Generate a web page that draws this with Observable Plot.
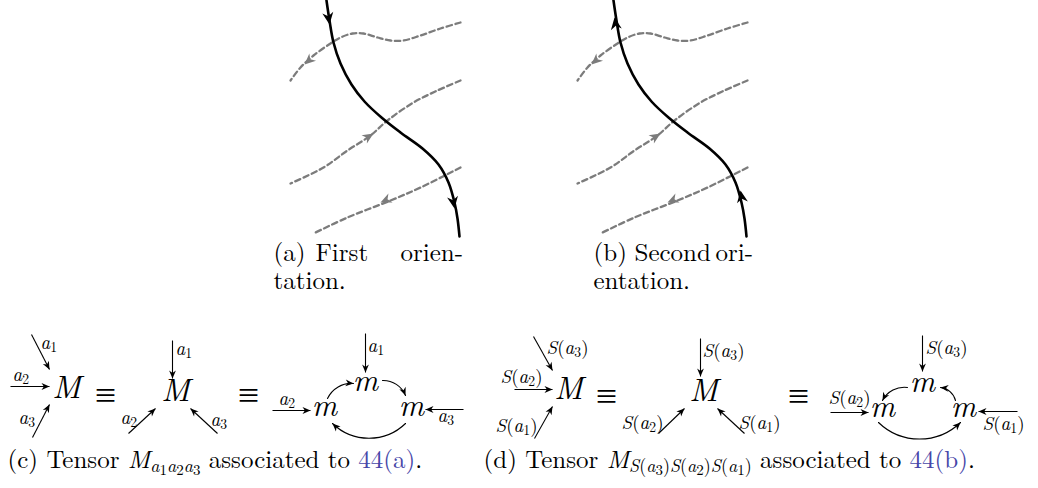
<!DOCTYPE html>
<html><head><meta charset="utf-8">
<script src="https://cdn.jsdelivr.net/npm/d3@7"></script>
<script src="https://cdn.jsdelivr.net/npm/@observablehq/plot@0.6"></script>
<style>
body{margin:0;background:#fff;}
</style></head><body><div id="chart"></div>
<script>
// ================= DATA =================
const W = 1038, H = 488;
const INK = "#000", GREY = "#7c7c7c", LINK = "#4646a8";
const SERIF = "Latin Modern Roman, Liberation Serif, serif";

// ---- top panels (a) and (b): same picture, panel (b) shifted right ----
const panelShift = [0, 287];
// the black strand (drawn downward in (a), upward in (b))
const strand = [[326,0],[329,20],[333,42],[340,63],[351,84],[364,101],[381,117],[400,132],[422,148],[438,164],[448,182],[454,202],[457,218],[459,236]];
// arrowheads: [tail, tip]
const strandHeadsA = [[[327,10],[329,24]], [[452,196],[454,208]]];
const strandHeadsB = [[[329,30],[327,17]], [[455,202],[453,190]]];
// dashed grey lines
const dashTop = [[460,22],[440,28],[420,35],[403,40],[390,40],[377,37],[363,33],[352,33],[340,37],[330,43],[313,55],[300,67],[290,80]];
const dashMid = [[460,80],[437,90],[413,102],[387,120],[370,135],[347,150],[323,167],[290,183]];
const dashLow = [[460,167],[420,187],[390,200],[347,217],[313,233]];
const dashHeads = [[[314,55],[304,64]], [[362,140],[373,133]], [[391,197],[380,202]]];

// ---- captions of (a), (b): words of the justified lines ----
const capWords = [
  {t:"(a)", x:273, y:260}, {t:"First", x:315, y:260}, {t:"orien-", x:400, y:260},
  {t:"tation.", x:273, y:288},
  {t:"(b)", x:593, y:260}, {t:"Second", x:634, y:260}, {t:"ori-", x:715, y:260},
  {t:"entation.", x:593, y:288}
];

// ---- diagrams (c) and (d) ----
const bigLetters = [
  {t:"$M$", x:66, y:397}, {t:"$M$", x:175, y:400},
  {t:"$M$", x:568, y:398}, {t:"$M$", x:703, y:400}
];
const smallM = [
  {t:"$m$", x:365, y:390}, {t:"$m$", x:324, y:415}, {t:"$m$", x:411, y:415},
  {t:"$m$", x:922, y:391}, {t:"$m$", x:882, y:416}, {t:"$m$", x:963, y:416}
];
const equivs = [{t:"≡", x:105, y:395}, {t:"≡", x:248, y:395}, {t:"≡", x:606, y:396}, {t:"≡", x:798, y:396}];
const straightArrows = [
  // (c)
  {x1:31,y1:334,x2:49,y2:369}, {x1:10,y1:386,x2:49,y2:386}, {x1:32,y1:437,x2:49,y2:404},
  {x1:172,y1:340,x2:172,y2:378}, {x1:128,y1:433,x2:155,y2:408}, {x1:217,y1:433,x2:190,y2:408},
  {x1:365,y1:333,x2:365,y2:372}, {x1:272,y1:410,x2:310,y2:410}, {x1:463,y1:409,x2:425,y2:409},
  // (d)
  {x1:533,y1:336,x2:552,y2:370}, {x1:514,y1:389,x2:552,y2:389}, {x1:534,y1:438,x2:552,y2:406},
  {x1:700,y1:338,x2:700,y2:376}, {x1:658,y1:433,x2:684,y2:408}, {x1:744,y1:433,x2:717,y2:408},
  {x1:922,y1:335,x2:922,y2:371}, {x1:830,y1:412,x2:868,y2:412}, {x1:1017,y1:411,x2:978,y2:411}
];
const curvedArrows = [
  {x1:327,y1:398,x2:353,y2:383,bend:35}, {x1:382,y1:380,x2:405,y2:395,bend:35}, {x1:405,y1:423,x2:332,y2:423,bend:44},
  {x1:907,y1:387,x2:882,y2:400,bend:-35}, {x1:955,y1:400,x2:940,y2:387,bend:-35}, {x1:878,y1:422,x2:960,y2:422,bend:-44}
];
const labels = [
  {t:"$a_1$", x:40, y:348}, {t:"$a_2$", x:12, y:380}, {t:"$a_3$", x:18, y:423},
  {t:"$a_1$", x:175, y:354}, {t:"$a_2$", x:120, y:423}, {t:"$a_3$", x:210, y:425},
  {t:"$a_1$", x:367, y:351}, {t:"$a_2$", x:278, y:404}, {t:"$a_3$", x:437, y:421},
  {t:"$S(a_3)$", x:546, y:353}, {t:"$S(a_2)$", x:500, y:382}, {t:"$S(a_1)$", x:495, y:431},
  {t:"$S(a_3)$", x:702, y:356}, {t:"$S(a_2)$", x:621, y:428}, {t:"$S(a_1)$", x:738, y:428},
  {t:"$S(a_3)$", x:925, y:353}, {t:"$S(a_2)$", x:828, y:403}, {t:"$S(a_1)$", x:982, y:429}
];
const bottomCaptions = [
  {t:"(c) Tensor $M_{a_1a_2a_3}$ associated to [44(a)].", x:7, y:467, w:422},
  {t:"(d) Tensor $M_{S(a_3)S(a_2)S(a_1)}$ associated to [44(b)].", x:483, y:467, w:549}
];

// ================= BUILD =================
const rows = (pts, s, id) => pts.map(([x, y]) => ({x: x + s, y, id}));
const strandData = panelShift.flatMap((s, k) => rows(strand, s, "s" + k));
const dashData = panelShift.flatMap((s, k) => [dashTop, dashMid, dashLow].flatMap((c, j) => rows(c, s, `d${k}${j}`)));
const deg = Math.PI / 180;
const headRow = ([[x1, y1], [x2, y2]], s) => ({x: x2 + s, y: y2, rotate: Math.atan2(y2 - y1, x2 - x1) / deg + 90});
const strandHeadData = [...strandHeadsA.map(h => headRow(h, 0)), ...strandHeadsB.map(h => headRow(h, panelShift[1]))];
const dashHeadData = panelShift.flatMap(s => dashHeads.map(h => headRow(h, s)));
const straightHeadData = straightArrows.map(d => headRow([[d.x1, d.y1], [d.x2, d.y2]], 0));
const curvedHeadData = curvedArrows.map(d => ({x: d.x2, y: d.y2,
  rotate: (Math.atan2(d.y2 - d.y1, d.x2 - d.x1) + d.bend * deg) / deg + 90}));

// LaTeX-like "stealth" arrowhead, tip at the anchor point
const stealth = {draw(ctx, l, r) {
  ctx.moveTo(0, -l); ctx.lineTo(r, 0); ctx.lineTo(0, -0.3 * l); ctx.lineTo(-r, 0); ctx.closePath();
}};

const textOpts = {x: "x", y: "y", text: "t", fontFamily: SERIF, fill: INK};
const plot = Plot.plot({
  width: W, height: H, margin: 0,
  x: {domain: [0, W], range: [0, W], axis: null},
  y: {domain: [0, H], range: [0, H], axis: null},
  style: {background: "#fff", overflow: "visible"},
  marks: [
    Plot.line(dashData, {x: "x", y: "y", z: "id", curve: "catmull-rom", stroke: GREY, strokeWidth: 2.3, strokeDasharray: "5.5,3.5"}),
    Plot.vector(dashHeadData, {x: "x", y: "y", rotate: "rotate", length: 11, r: 5, anchor: "end", shape: stealth, fill: GREY, stroke: "none"}),
    Plot.line(strandData, {x: "x", y: "y", z: "id", curve: "catmull-rom", stroke: INK, strokeWidth: 2.6}),
    Plot.vector(strandHeadData, {x: "x", y: "y", rotate: "rotate", length: 12, r: 5.5, anchor: "end", shape: stealth, fill: INK, stroke: "none"}),
    Plot.text(capWords, {...textOpts, textAnchor: "start", lineAnchor: "bottom", fontSize: 25}),

    Plot.link(straightArrows, {x1: "x1", y1: "y1", x2: "x2", y2: "y2", stroke: INK, strokeWidth: 1.1}),
    Plot.vector(straightHeadData, {x: "x", y: "y", rotate: "rotate", length: 8, r: 3.4, anchor: "end", shape: stealth, fill: INK, stroke: "none"}),
    ...curvedArrows.map(d => Plot.arrow([d], {x1: "x1", y1: "y1", x2: "x2", y2: "y2", bend: d.bend, headLength: 0, stroke: INK, strokeWidth: 1.1})),
    Plot.vector(curvedHeadData, {x: "x", y: "y", rotate: "rotate", length: 8, r: 3.4, anchor: "end", shape: stealth, fill: INK, stroke: "none"}),
    Plot.text(bigLetters, {...textOpts, textAnchor: "middle", lineAnchor: "bottom", fontSize: 32}),
    Plot.text(smallM, {...textOpts, textAnchor: "middle", lineAnchor: "bottom", fontSize: 31}),
    Plot.text(equivs, {...textOpts, textAnchor: "middle", lineAnchor: "middle", fontSize: 38}),
    Plot.text(labels, {...textOpts, textAnchor: "start", lineAnchor: "bottom", fontSize: 19}),
    Plot.text(bottomCaptions, {...textOpts, textAnchor: "start", lineAnchor: "bottom", fontSize: 25, ariaLabel: "caption-lines"})
  ]
});
document.getElementById("chart").appendChild(plot);

// ============ tiny math typesetter: $..$ math, _x / _{..} subscripts, [..] link colour ============
function parseMath(s, level, out, link) {
  for (let i = 0; i < s.length;) {
    const c = s[i];
    if (c === "_") {
      i++;
      let arg;
      if (s[i] === "{") {
        let depth = 1, j = i + 1;
        while (depth) { if (s[j] === "{") depth++; else if (s[j] === "}") depth--; j++; }
        arg = s.slice(i + 1, j - 1); i = j;
      } else { arg = s[i]; i++; }
      parseMath(arg, level + 1, out, link);
    } else {
      out.push({ch: c, level, italic: /[A-Za-z]/.test(c), link});
      i++;
    }
  }
}
function richify(el) {
  const src = el.textContent;
  if (!/[$\[]/.test(src)) return;
  const base = parseFloat(getComputedStyle(el).fontSize);
  const toks = [];
  let link = false;
  for (let i = 0; i < src.length;) {
    const c = src[i];
    if (c === "$") { const j = src.indexOf("$", i + 1); parseMath(src.slice(i + 1, j), 0, toks, link); i = j + 1; continue; }
    if (c === "[") { link = true; i++; continue; }
    if (c === "]") { link = false; i++; continue; }
    toks.push({ch: c, level: 0, italic: false, link}); i++;
  }
  const groups = [];
  let g = null;
  for (const t of toks) {
    if (g && g.level === t.level && g.italic === t.italic && g.link === t.link) g.s += t.ch;
    else groups.push(g = {s: t.ch, level: t.level, italic: t.italic, link: t.link});
  }
  const scale = [1, 0.72, 0.6], shift = [0, 0.18, 0.3];
  el.textContent = "";
  el.style.whiteSpace = "pre";
  let cur = 0;
  for (const gr of groups) {
    const ts = document.createElementNS("http://www.w3.org/2000/svg", "tspan");
    ts.textContent = gr.s;
    ts.setAttribute("font-size", (base * scale[gr.level]).toFixed(2));
    const off = shift[gr.level] * base;
    if (Math.abs(off - cur) > 1e-6) { ts.setAttribute("dy", (off - cur).toFixed(2)); cur = off; }
    if (gr.italic) ts.setAttribute("font-style", "italic");
    if (gr.link) ts.setAttribute("fill", LINK);
    el.appendChild(ts);
  }
}
d3.select(plot).selectAll("text").each(function () { richify(this); });

// spread each caption line to the reference line width with per-character dx (justified TeX line)
d3.select(plot).selectAll('g[aria-label="caption-lines"] text').each(function (_, i) {
  const width = this.getComputedTextLength();
  const spans = Array.from(this.querySelectorAll("tspan"));
  const total = spans.reduce((s, t) => s + t.textContent.length, 0);
  const e = Math.max(-1, Math.min(4, (bottomCaptions[i].w - width) / Math.max(1, total - 1)));
  let first = true;
  for (const t of spans) {
    const list = Array.from(t.textContent, () => { const v = first ? 0 : e; first = false; return v.toFixed(3); });
    t.setAttribute("dx", list.join(" "));
  }
});
</script>
</body></html>
